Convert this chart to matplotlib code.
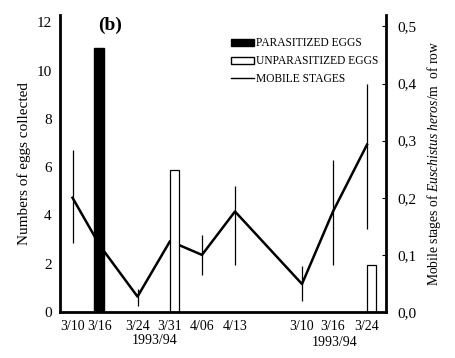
import numpy as np
import matplotlib
matplotlib.use("Agg")
import matplotlib.pyplot as plt
from matplotlib.patches import Patch
from matplotlib.lines import Line2D

plt.rcParams['font.family'] = ['Liberation Serif', 'DejaVu Serif']
plt.rcParams['mathtext.fontset'] = 'custom'
plt.rcParams['mathtext.rm'] = 'Liberation Serif'
plt.rcParams['mathtext.it'] = 'Liberation Serif:italic'

# ---- data ----
dates = ["3/10", "3/16", "3/24", "3/31", "4/06", "4/13", "3/10", "3/16", "3/24"]
date_pos = [12.5, 40, 77.5, 110, 142, 175, 242, 273, 307]
year_labels = ["1993/94", "1993/94"]

mobile = [0.200, 0.116, 0.027, 0.124, 0.100, 0.176, 0.049, 0.176, 0.293]
mobile_low = [0.120, np.nan, 0.011, np.nan, 0.064, 0.082, 0.020, 0.082, 0.146]
mobile_high = [0.284, np.nan, 0.041, np.nan, 0.135, 0.220, 0.080, 0.266, 0.400]

parasitized_idx = [1]
parasitized = [10.95]
unparasitized_idx = [3, 8]
unparasitized = [5.9, 1.95]

fig = plt.figure(figsize=(4.55, 3.58), dpi=100)
ax = fig.add_axes([60/455, 1-312/358, 326/455, 297/358])
ax2 = ax.twinx()

# bars
ax.bar([date_pos[i] - 6 for i in parasitized_idx], parasitized, width=10,
       align='edge', color='black', edgecolor='black', zorder=2)
ax.bar([date_pos[i] for i in unparasitized_idx], unparasitized, width=9,
       align='edge', color='white', edgecolor='black', linewidth=0.9, zorder=2)

# mobile stages
ax2.plot(date_pos, mobile, color='black', lw=1.8, zorder=3)
for x, lo, hi in zip(date_pos, mobile_low, mobile_high):
    if not np.isnan(lo):
        ax2.vlines(x, lo, hi, color='black', lw=0.9, zorder=3)

ax.set_xlim(0, 326)
ax.set_ylim(0, 12.3)
ax2.set_ylim(0, 0.52)
ax.set_zorder(ax2.get_zorder() + 1)
ax.patch.set_visible(False)

ax.set_yticks(range(0, 13, 2))
ax.tick_params(axis='y', length=0, labelsize=11, pad=6)
ax2.set_yticks([0, 0.1, 0.2, 0.3, 0.4, 0.5])
ax2.set_yticklabels(["0,0", "0,1", "0,2", "0,3", "0,4", "0,5"])
ax2.tick_params(axis='y', length=3, direction='in', labelsize=11, pad=8)

ax.set_xticks(date_pos)
ax.set_xticklabels(dates, fontsize=10)
ax.tick_params(axis='x', length=0, pad=6)

for s in ['top']:
    ax.spines[s].set_visible(False)
    ax2.spines[s].set_visible(False)
ax.spines['left'].set_linewidth(2)
ax.spines['bottom'].set_linewidth(2)
ax2.spines['right'].set_linewidth(2)
ax.spines['right'].set_visible(False)
ax2.spines['left'].set_visible(False)
ax2.spines['bottom'].set_visible(False)

ax.set_ylabel("Numbers of eggs collected", fontsize=11, labelpad=4)
ax2.set_ylabel(r"Mobile stages of $\it{Euschistus\ heros}$/m  of row", fontsize=9.8, labelpad=6)

fig.text(155/455, 1-340/358, year_labels[0], fontsize=10, ha='center', va='center')
fig.text(335/455, 1-343/358, year_labels[1], fontsize=10, ha='center', va='center')

ax.text(50, 12.25, "(b)", fontsize=14, fontweight='bold', ha='center', va='top')

handles = [Patch(facecolor='black', edgecolor='black'),
           Patch(facecolor='white', edgecolor='black'),
           Line2D([0], [0], color='black', lw=1)]
labels = ["PARASITIZED EGGS", "UNPARASITIZED EGGS", "MOBILE STAGES"]
leg = ax.legend(handles, labels, loc='upper left', bbox_to_anchor=(166/326, 0.94),
                frameon=False, fontsize=8.3, handlelength=2.0, handleheight=0.55,
                handletextpad=0.2, labelspacing=0.5, borderaxespad=0)

fig.savefig("out.png", dpi=100)
